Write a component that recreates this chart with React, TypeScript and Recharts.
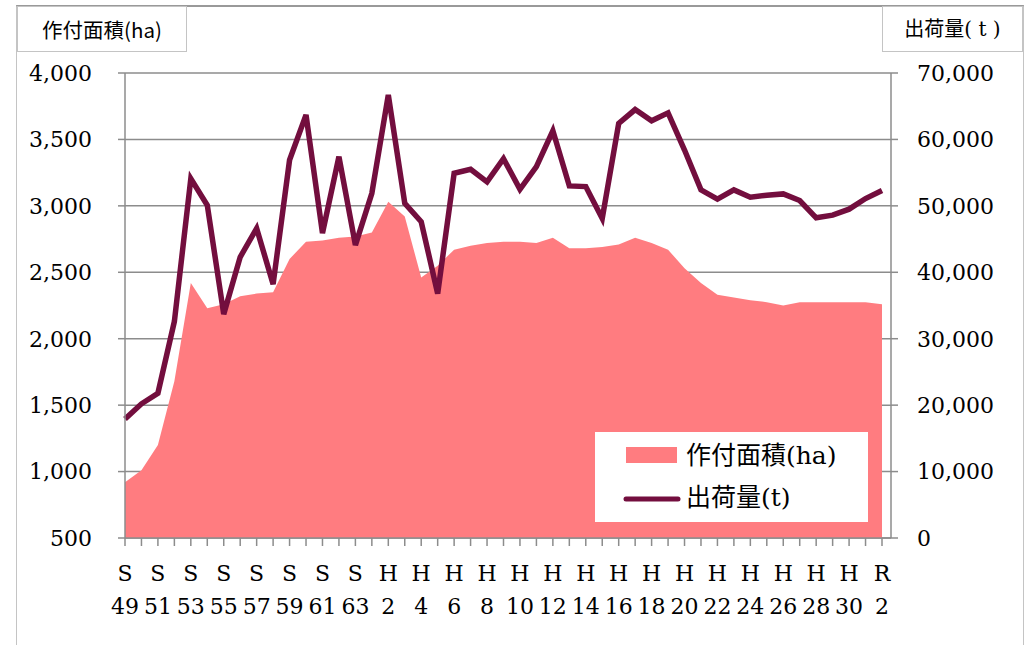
import React from "react";
import { Area, CartesianGrid, ComposedChart, Legend, Line, XAxis, YAxis } from "recharts";

// 年次 (S49〜R2)
const years = [
  "S49", "S50", "S51", "S52", "S53", "S54", "S55", "S56", "S57", "S58", "S59", "S60", "S61", "S62", "S63",
  "H1", "H2", "H3", "H4", "H5", "H6", "H7", "H8", "H9", "H10", "H11", "H12", "H13", "H14", "H15",
  "H16", "H17", "H18", "H19", "H20", "H21", "H22", "H23", "H24", "H25", "H26", "H27", "H28", "H29", "H30",
  "R1", "R2",
];

// 作付面積 (ha)
const areaHa = [
  920, 1010, 1200, 1680, 2420, 2230, 2260, 2320, 2340, 2350, 2600, 2730, 2740, 2760, 2770,
  2800, 3030, 2920, 2460, 2550, 2670, 2700, 2720, 2730, 2730, 2720, 2760, 2680, 2680, 2690,
  2710, 2760, 2720, 2670, 2530, 2420, 2330, 2310, 2290, 2275, 2250, 2275, 2275, 2275, 2275,
  2275, 2260,
];

// 出荷量 (t)
const shipmentT = [
  17900, 20200, 21800, 32600, 54100, 50100, 33700, 42300, 46600, 38200, 56900, 63700, 45900, 57400, 44100,
  51900, 66700, 50400, 47600, 36800, 54900, 55500, 53600, 57100, 52500, 55900, 61300, 53000, 52900, 48100,
  62400, 64500, 62800, 64000, 58400, 52400, 51000, 52400, 51300, 51600, 51800, 50800, 48200, 48600, 49500,
  51100, 52300,
];

const leftTicks = [500, 1000, 1500, 2000, 2500, 3000, 3500, 4000];
const rightTicks = [0, 10000, 20000, 30000, 40000, 50000, 60000, 70000];

const data = years.map((year, i) => ({ year, area: areaHa[i], ship: shipmentT[i] }));

const AREA_COLOR = "#FF7C80";
const LINE_COLOR = "#730E3E";
const GRID = "#8c8c8c";
const SERIF = '"DejaVu Serif", "Noto Sans CJK JP", serif';
const SANS = '"Noto Sans CJK JP", "Noto Sans", sans-serif';

const fmt = (v: number) => v.toLocaleString("en-US");

function YearTick(props: any) {
  const { x, y, payload, index } = props;
  if (index % 2 !== 0) return <g />;
  const label = String(payload.value);
  return (
    <text x={x} y={y} textAnchor="middle" fontFamily={SERIF} fontSize={22} fill="#000">
      <tspan x={x} dy={33}>{label[0]}</tspan>
      <tspan x={x} dy={33}>{label.slice(1)}</tspan>
    </text>
  );
}

function LegendBox() {
  return (
    <svg width={273} height={90} style={{ display: "block", background: "#fff" }}>
      <rect x={31} y={15} width={51} height={16} fill={AREA_COLOR} />
      <text x={91} y={23} dominantBaseline="central" fontFamily={SERIF} fontSize={25} fill="#000">
        作付面積(ha)
      </text>
      <line x1={31} y1={67} x2={83} y2={67} stroke={LINE_COLOR} strokeWidth={5} strokeLinecap="round" />
      <text x={91} y={65} dominantBaseline="central" fontFamily={SERIF} fontSize={25} fill="#000">
        出荷量(t)
      </text>
    </svg>
  );
}

export default function App() {
  return (
    <div style={{ position: "absolute", left: 0, top: 0, width: 1029, height: 645, background: "#fff", overflow: "hidden" }}>
      {/* 外枠 */}
      <div
        style={{
          position: "absolute", left: 16, top: 5, width: 1006, height: 700,
          borderTop: "2px solid #999", borderLeft: "1.5px solid #c4c4c4", borderRight: "1.5px solid #c4c4c4",
        }}
      />
      <div
        style={{
          position: "absolute", left: 17, top: 6, width: 168, height: 44, background: "#fff",
          border: "1.5px solid #c4c4c4", fontFamily: SANS, fontSize: 20.5, lineHeight: "44px",
          textAlign: "center", color: "#000", boxSizing: "content-box",
        }}
      >
        作付面積(ha)
      </div>
      <div
        style={{
          position: "absolute", left: 882, top: 6, width: 139, height: 44, background: "#fff",
          border: "1.5px solid #c4c4c4", fontFamily: SERIF, fontSize: 20, lineHeight: "44px",
          textAlign: "center", color: "#000", boxSizing: "content-box",
        }}
      >
        出荷量( t )
      </div>
      <div style={{ position: "absolute", left: 0, top: 0 }}>
        <ComposedChart width={1029} height={645} data={data} margin={{ top: 73, right: 38, bottom: 47, left: 25 }}>
          <CartesianGrid yAxisId="left" horizontal vertical={false} stroke={GRID} strokeWidth={1.5} />
          <XAxis
            dataKey="year"
            interval={0}
            height={60}
            tickSize={8}
            padding={{ left: 0, right: 9 }}
            stroke={GRID}
            strokeWidth={1.5}
            tick={<YearTick />}
          />
          <YAxis
            yAxisId="left"
            domain={[500, 4000]}
            ticks={leftTicks}
            width={100}
            tickSize={7}
            tickMargin={26}
            stroke={GRID}
            strokeWidth={1.5}
            tickFormatter={fmt}
            tick={{ fill: "#000", fontSize: 22, fontFamily: SERIF }}
          />
          <YAxis
            yAxisId="right"
            orientation="right"
            domain={[0, 70000]}
            ticks={rightTicks}
            width={100}
            tickSize={7}
            tickMargin={19}
            stroke={GRID}
            strokeWidth={1.5}
            tickFormatter={fmt}
            tick={{ fill: "#000", fontSize: 22, fontFamily: SERIF }}
          />
          <Area
            yAxisId="left"
            type="linear"
            dataKey="area"
            name="作付面積(ha)"
            stroke="none"
            fill={AREA_COLOR}
            fillOpacity={1}
            isAnimationActive={false}
          />
          <Line
            yAxisId="right"
            type="linear"
            dataKey="ship"
            name="出荷量(t)"
            stroke={LINE_COLOR}
            strokeWidth={5.5}
            dot={false}
            activeDot={false}
            isAnimationActive={false}
          />
          <Legend
            layout="vertical"
            align="center"
            verticalAlign="middle"
            content={<LegendBox />}
            wrapperStyle={{ left: 595, top: 432, width: 273, height: 90 }}
          />
        </ComposedChart>
      </div>
    </div>
  );
}
